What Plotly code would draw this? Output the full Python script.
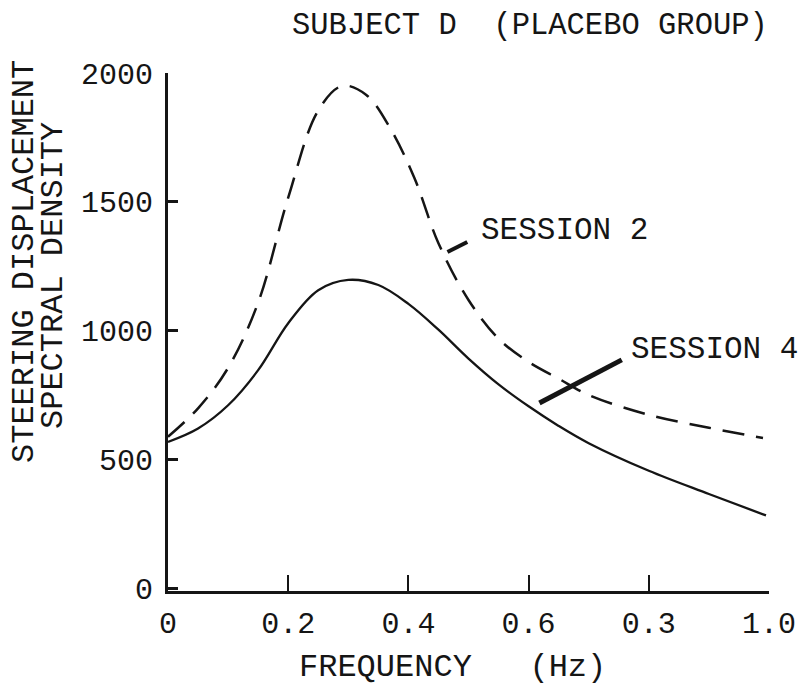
import plotly.graph_objects as go

# Spectral density of steering displacement, subject D (placebo group)
freq_s2 = [0.0, 0.05, 0.10, 0.15, 0.20, 0.25, 0.29, 0.33, 0.37, 0.41, 0.45,
           0.50, 0.55, 0.60, 0.65, 0.70, 0.80, 0.90, 0.99]
dens_s2 = [590, 700, 857, 1110, 1517, 1855, 1950, 1915, 1785, 1593, 1340,
           1120, 970, 880, 815, 752, 675, 625, 585]

freq_s4 = [0.0, 0.05, 0.10, 0.15, 0.20, 0.25, 0.30, 0.35, 0.40, 0.45,
           0.50, 0.55, 0.60, 0.65, 0.70, 0.80, 0.90, 0.995]
dens_s4 = [570, 622, 712, 848, 1030, 1158, 1198, 1178, 1105, 1005,
           893, 793, 708, 632, 565, 458, 368, 285]

x_tickvals = [0, 0.2, 0.4, 0.6, 0.8, 1.0]
x_ticktext = ["0", "0.2", "0.4", "0.6", "0.3", "1.0"]
y_tickvals = [0, 500, 1000, 1500, 2000]
y_ticktext = ["0", "500", "1000", "1500", "2000"]

FONT = "Liberation Mono, Courier New, monospace"
INK = "#151515"
W, H = 804, 691
L, R, T, B = 168, 35, 73, 100


def px(xp, yp):
    """Convert a page pixel position to paper coordinates."""
    return (xp - L) / (W - L - R), (H - B - yp) / (H - T - B)


fig = go.Figure()
fig.add_trace(go.Scatter(
    x=freq_s2, y=dens_s2, mode="lines", line_shape="spline",
    line=dict(color=INK, width=2.5, dash="22px,12px"),
    showlegend=False, hoverinfo="skip"))
fig.add_trace(go.Scatter(
    x=freq_s4, y=dens_s4, mode="lines", line_shape="spline",
    line=dict(color=INK, width=2.3),
    showlegend=False, hoverinfo="skip"))

axis_font = dict(family=FONT, size=30, color=INK)

fig.update_xaxes(
    range=[0, 1.0], showgrid=False, zeroline=False,
    showline=True, linecolor=INK, linewidth=3,
    tickvals=x_tickvals, ticktext=x_ticktext,
    ticks="inside", ticklen=16, tickwidth=2, tickcolor=INK,
    tickfont=axis_font, ticklabelstandoff=3, automargin=False)
fig.update_yaxes(
    range=[-8, 2000], showgrid=False, zeroline=False,
    showline=True, linecolor=INK, linewidth=3,
    tickvals=y_tickvals, ticktext=y_ticktext,
    ticks="inside", ticklen=10, tickwidth=3, tickcolor=INK,
    tickfont=axis_font, ticklabelstandoff=6, automargin=False)

annotations = []


def label(text, xp, yp, xanchor="center", angle=0, size=30):
    x, y = px(xp, yp)
    annotations.append(dict(
        text=text, x=x, y=y, xref="paper", yref="paper",
        xanchor=xanchor, yanchor="middle", textangle=angle,
        showarrow=False, font=dict(family=FONT, size=size, color=INK)))


label("SUBJECT D  (PLACEBO GROUP)", 530, 26, size=30.5)
label("FREQUENCY   (Hz)", 452, 667, size=32)
label("STEERING DISPLACEMENT", 24, 262, angle=-90, size=32)
label("SPECTRAL DENSITY", 53, 276, angle=-90, size=32)
label("SESSION 2", 479, 231, xanchor="left", size=31)
label("SESSION 4", 629, 350, xanchor="left", size=31)

fig.update_layout(
    width=W, height=H,
    margin=dict(l=L, r=R, t=T, b=B),
    paper_bgcolor="white", plot_bgcolor="white",
    annotations=annotations,
    shapes=[
        # leader strokes tying each label to its curve
        dict(type="line", xref="x", yref="y", x0=0.465, y0=1306, x1=0.498,
             y1=1345, line=dict(color=INK, width=4)),
        dict(type="line", xref="x", yref="y", x0=0.618, y0=721, x1=0.755,
             y1=888, line=dict(color=INK, width=5)),
    ],
)

fig.write_html("out.html")
